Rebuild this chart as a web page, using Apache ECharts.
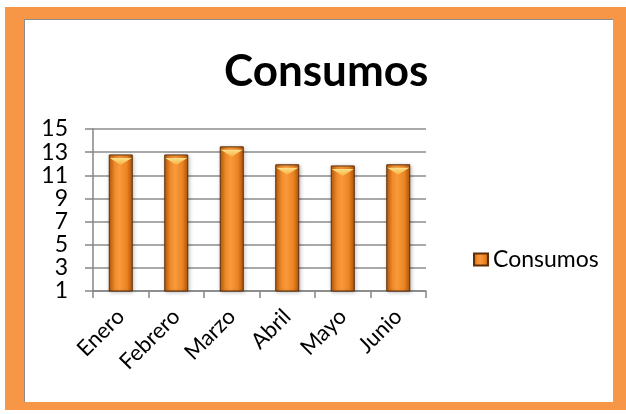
<!DOCTYPE html>
<html><head><meta charset="utf-8">
<script src="https://cdn.jsdelivr.net/npm/echarts@6/dist/echarts.min.js"></script>
<style>
html,body{margin:0;padding:0;background:#fff;}
#frame{position:absolute;left:5px;top:7px;width:621px;height:403px;background:#f79646;}
#inner{position:absolute;left:19px;top:12px;width:589px;height:383px;background:#fff;border-left:1px solid #8c8c8c;border-top:1px solid #8c8c8c;box-sizing:border-box;}
#chart{position:absolute;left:0;top:0;width:626px;height:414px;}
</style>
</head><body>
<div id="frame"><div id="inner"></div></div>
<div id="chart"></div>
<script>
const titleText = 'Consumos';
const seriesName = 'Consumos';
const categories = ['Enero', 'Febrero', 'Marzo', 'Abril', 'Mayo', 'Junio'];
const values = [12.8, 12.8, 13.5, 11.95, 11.85, 11.95];
const yMin = 1, yMax = 15, yStep = 2;

const font = 'Lato, "Open Sans", sans-serif';
const chart = echarts.init(document.getElementById('chart'), null, {renderer: 'canvas'});
const barFill = new echarts.graphic.LinearGradient(0, 0, 1, 0, [
  {offset: 0, color: '#b85a0c'},
  {offset: 0.25, color: '#f08a2a'},
  {offset: 0.45, color: '#f99a3a'},
  {offset: 0.75, color: '#ec8424'},
  {offset: 1, color: '#b0540a'}
]);
chart.setOption({
  backgroundColor: 'transparent',
  animation: false,
  title: {
    text: titleText, left: 219, top: 45,
    textStyle: {fontFamily: font, fontSize: 44, fontWeight: 'bold', color: '#000'}
  },
  legend: {
    data: [seriesName], left: 468, top: 243, icon: 'rect', itemWidth: 14, itemHeight: 12, itemGap: 6,
    textStyle: {fontFamily: font, fontSize: 23, color: '#000'}
  },
  grid: {left: 93, right: 200, top: 129, bottom: 123, containLabel: false},
  xAxis: {
    type: 'category', data: categories,
    axisLine: {lineStyle: {color: '#868686', width: 1.5}},
    axisTick: {show: true, length: 7, lineStyle: {color: '#868686', width: 1.5}},
    axisLabel: {rotate: 45, fontFamily: font, fontSize: 22, color: '#000', margin: 22, interval: 0}
  },
  yAxis: {
    type: 'value', min: yMin, max: yMax, interval: yStep,
    axisLine: {show: true, lineStyle: {color: '#868686', width: 1.5}},
    axisTick: {show: true, length: 8, lineStyle: {color: '#868686', width: 1.5}},
    axisLabel: {fontFamily: font, fontSize: 23, color: '#000', margin: 25},
    splitLine: {lineStyle: {color: '#8c8c8c', width: 1.5}}
  },
  series: [{
    name: seriesName, type: 'bar', data: values, barWidth: 24,
    itemStyle: {color: barFill, borderColor: '#5e2e06', borderWidth: 1,
      shadowColor: 'rgba(0,0,0,0.25)', shadowBlur: 4, shadowOffsetX: 1, shadowOffsetY: 1}
  }, {
    name: 'bevel', type: 'pictorialBar', data: values, barWidth: 22,
    symbol: 'path://M0,0 L24,0 L12,8 Z', symbolPosition: 'end', symbolSize: [22, 7],
    symbolOffset: [0, '50%'], z: 3, silent: true,
    itemStyle: {color: new echarts.graphic.LinearGradient(0, 0, 0, 1, [
      {offset: 0, color: '#fde08a'}, {offset: 1, color: '#f6b040'}])}
  }]
});
</script>
</body></html>
